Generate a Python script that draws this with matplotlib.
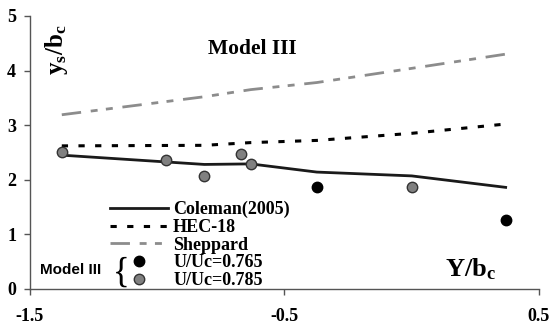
import matplotlib.pyplot as plt
from matplotlib.lines import Line2D

# Y/bc positions where the formulas were evaluated
x_pos = [-1.375, -0.815, -0.633, -0.373, 0.0, 0.369]
coleman = [2.45, 2.28, 2.29, 2.14, 2.07, 1.86]
hec18 = [2.62, 2.63, 2.68, 2.72, 2.85, 3.02]
sheppard = [3.19, 3.52, 3.65, 3.78, 4.04, 4.30]

# measured points, Model III
u765_x = [-0.373, 0.369]
u765_y = [1.86, 1.26]
u785_x = [-1.375, -0.966, -0.815, -0.672, -0.633, 0.0]
u785_y = [2.51, 2.37, 2.06, 2.48, 2.29, 1.86]

x_ticks = [-1.5, -0.5, 0.5]
y_ticks = [0, 1, 2, 3, 4, 5]

plt.rcParams['font.family'] = 'Liberation Serif'
plt.rcParams['font.weight'] = 'bold'
plt.rcParams['mathtext.fontset'] = 'custom'
plt.rcParams['mathtext.rm'] = 'Liberation Serif:bold'
plt.rcParams['mathtext.it'] = 'Liberation Serif:bold'
plt.rcParams['mathtext.bf'] = 'Liberation Serif:bold'
plt.rcParams['lines.scale_dashes'] = False

fig = plt.figure(figsize=(5.5, 3.25), dpi=100)
ax = fig.add_axes([0.0545, 0.111, 0.9255, 0.840])

ax.plot(x_pos, coleman, color='#1a1a1a', lw=2.0, label='Coleman(2005)')
ax.plot(x_pos, hec18, color='black', lw=2.2, dashes=(4.5, 7.5), label='HEC-18')
ax.plot(x_pos, sheppard, color='#8c8c8c', lw=2.0, dashes=(14, 7, 5, 6, 5, 7),
        label='Sheppard')
ax.plot(u765_x, u765_y, 'o', ms=7.5, mfc='black', mec='black', zorder=5)
ax.plot(u785_x, u785_y, 'o', ms=7.5, mfc='#808080', mec='#333333', mew=1.0,
        zorder=5)

ax.set_xlim(-1.5, 0.5)
ax.set_ylim(0, 5)
ax.set_xticks(x_ticks)
ax.set_xticklabels(['-1.5', '-0.5', '0.5'])
ax.set_yticks(y_ticks)
ax.tick_params(axis='x', length=4, width=1, color='#555555', pad=10, labelsize=13)
ax.tick_params(axis='y', length=4, width=1, color='#555555', pad=6, labelsize=13)
for s in ['top', 'right']:
    ax.spines[s].set_visible(False)
for s in ['left', 'bottom']:
    ax.spines[s].set_color('#555555')
    ax.spines[s].set_linewidth(1.0)

handles = [
    Line2D([], [], color='#1a1a1a', lw=2.0),
    Line2D([], [], color='black', lw=2.2, dashes=(4.5, 7.5)),
    Line2D([], [], color='#8c8c8c', lw=2.0, dashes=(14, 7, 5, 6, 5, 7)),
    Line2D([], [], ls='none', marker='o', ms=7.5, mfc='black', mec='black'),
    Line2D([], [], ls='none', marker='o', ms=7.5, mfc='#808080', mec='#333333'),
]
labels = ['Coleman(2005)', 'HEC-18', 'Sheppard', 'U/Uc=0.765', 'U/Uc=0.785']
ax.legend(handles, labels, loc='upper left', bbox_to_anchor=(0.157, 0.322),
          frameon=False, borderpad=0, borderaxespad=0, handlelength=3.2,
          handletextpad=0.3, labelspacing=0.04, prop={'size': 13, 'weight': 'bold'})

ax.text(0.02, 0.068, 'Model III', transform=ax.transAxes, family='Liberation Sans',
        weight='bold', fontsize=11, va='center', ha='left')
ax.text(0.18, 0.058, '{', transform=ax.transAxes, family='Liberation Serif',
        weight='normal', fontsize=25, va='center', ha='center')

ax.text(0.437, 0.878, 'Model III', transform=ax.transAxes, fontsize=15.5,
        ha='center', va='center')
ax.text(0.053, 0.875, r'$\mathrm{y_s/b_c}$', transform=ax.transAxes, fontsize=18,
        rotation=90, ha='center', va='center')
ax.text(0.865, 0.073, r'$\mathrm{Y/b_c}$', transform=ax.transAxes, fontsize=19,
        ha='center', va='center')

fig.savefig('out.png', dpi=100)
